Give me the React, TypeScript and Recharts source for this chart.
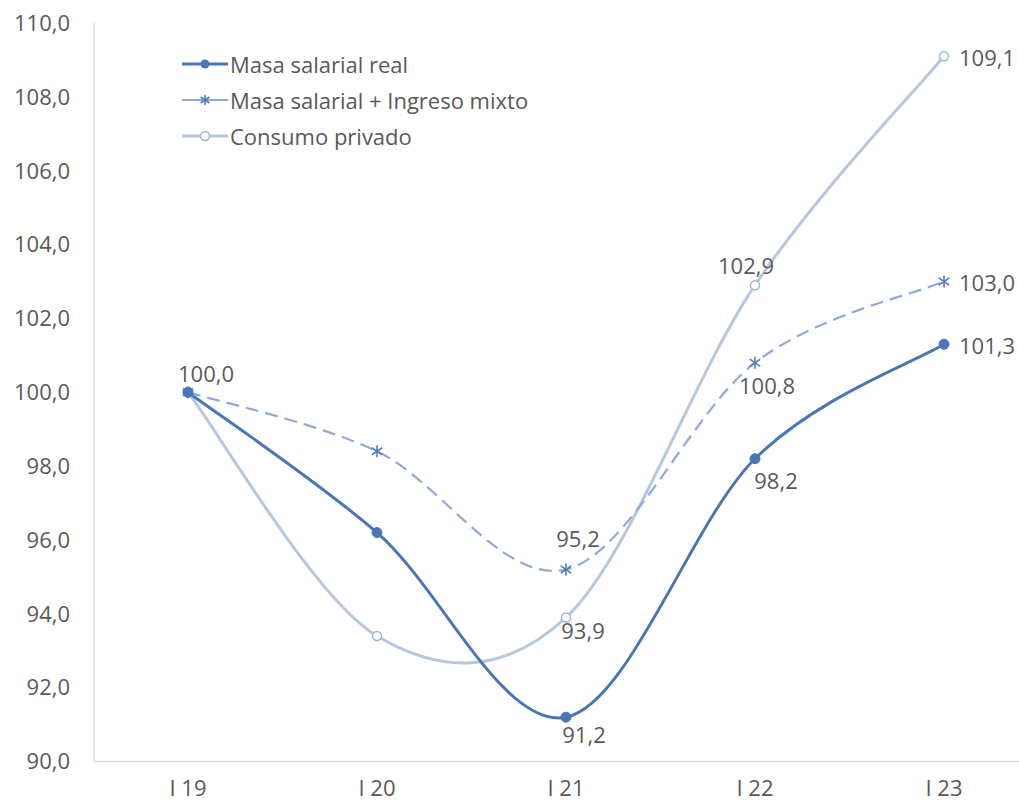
import React from 'react';
import { LineChart, Line, XAxis, YAxis, LabelList, Legend } from 'recharts';

const categories = ['I 19', 'I 20', 'I 21', 'I 22', 'I 23'];
const masaSalarialReal = [100.0, 96.2, 91.2, 98.2, 101.3];
const masaMasMixto = [100.0, 98.4, 95.2, 100.8, 103.0];
const consumoPrivado = [100.0, 93.4, 93.9, 102.9, 109.1];
const yTicks = [90, 92, 94, 96, 98, 100, 102, 104, 106, 108, 110];

const SERIES = [
  { key: 'real', name: 'Masa salarial real' },
  { key: 'mixto', name: 'Masa salarial + Ingreso mixto' },
  { key: 'consumo', name: 'Consumo privado' },
];

const data = categories.map((c, i) => ({
  cat: c,
  real: masaSalarialReal[i],
  mixto: masaMasMixto[i],
  consumo: consumoPrivado[i],
}));

const FONT = '"Open Sans", sans-serif';
const FS = 22;
const TXT = '#595959';
const C_REAL = '#4a77b4';
const C_MIXTO = '#8faad8';
const C_MIXTO_MK = '#4f7bc0';
const C_CONS = '#b5c8de';
const C_CONS_MK = '#9bb6d8';

// label placement per series: index -> [dx, dy, anchor]
const labelsReal: Record<number, [number, number, string]> = {
  2: [18, 17, 'middle'],
  3: [21, 21, 'middle'],
  4: [15, 1, 'start'],
};
const labelsMixto: Record<number, [number, number, string]> = {
  2: [12, -31, 'middle'],
  3: [12, 22, 'middle'],
  4: [15, 1, 'start'],
};
const labelsConsumo: Record<number, [number, number, string]> = {
  0: [18, -19, 'middle'],
  2: [17, 13, 'middle'],
  3: [-9, -20, 'middle'],
  4: [15, 1, 'start'],
};

const fmt = (v: number) => v.toFixed(1).replace('.', ',');

// Excel-like smoothing (Catmull-Rom, uniform)
const excelCurve = (context: any) => {
  let pts: number[][] = [];
  return {
    areaStart() {},
    areaEnd() {},
    lineStart() {
      pts = [];
    },
    point(x: number, y: number) {
      pts.push([+x, +y]);
    },
    lineEnd() {
      if (!pts.length) return;
      context.moveTo(pts[0][0], pts[0][1]);
      for (let i = 0; i < pts.length - 1; i++) {
        const p0 = pts[i - 1] || pts[i];
        const p1 = pts[i];
        const p2 = pts[i + 1];
        const p3 = pts[i + 2] || pts[i + 1];
        const c1x = p1[0] + (p2[0] - p0[0]) / 6;
        const c1y = p1[1] + (p2[1] - p0[1]) / 6;
        const c2x = p2[0] - (p3[0] - p1[0]) / 6;
        const c2y = p2[1] - (p3[1] - p1[1]) / 6;
        context.bezierCurveTo(c1x, c1y, c2x, c2y, p2[0], p2[1]);
      }
    },
  };
};

const makeLabel = (cfg: Record<number, [number, number, string]>) => (props: any) => {
  const { x, y, value, index } = props;
  const c = cfg[index];
  if (!c) return null;
  return (
    <text
      x={x + c[0]}
      y={y + c[1]}
      textAnchor={c[2] as any}
      dominantBaseline="central"
      fill={TXT}
      fontSize={FS}
      fontFamily={FONT}
    >
      {fmt(value)}
    </text>
  );
};

const DotReal = (props: any) => {
  const { cx, cy } = props;
  if (cx == null || cy == null) return null;
  return <circle cx={cx} cy={cy} r={5} fill={C_REAL} stroke={C_REAL} strokeWidth={1} />;
};

const StarShape = ({ cx, cy, s = 6 }: { cx: number; cy: number; s?: number }) => (
  <g stroke={C_MIXTO_MK} strokeWidth={1.6} fill="none">
    <line x1={cx} y1={cy - s} x2={cx} y2={cy + s} />
    <line x1={cx - s * 0.87} y1={cy - s * 0.6} x2={cx + s * 0.87} y2={cy + s * 0.6} />
    <line x1={cx - s * 0.87} y1={cy + s * 0.6} x2={cx + s * 0.87} y2={cy - s * 0.6} />
  </g>
);

const DotMixto = (props: any) => {
  const { cx, cy } = props;
  if (cx == null || cy == null) return null;
  return <StarShape cx={cx} cy={cy} />;
};

const DotConsumo = (props: any) => {
  const { cx, cy } = props;
  if (cx == null || cy == null) return null;
  return <circle cx={cx} cy={cy} r={4.5} fill="#ffffff" stroke={C_CONS_MK} strokeWidth={1.5} />;
};

const LegendContent = () => {
  const rows = [
    { name: SERIES[0].name, kind: 'real' },
    { name: SERIES[1].name, kind: 'mixto' },
    { name: SERIES[2].name, kind: 'consumo' },
  ];
  return (
    <div style={{ fontFamily: FONT, fontSize: FS, color: TXT }}>
      {rows.map((r) => (
        <div key={r.kind} style={{ display: 'flex', alignItems: 'center', height: 36 }}>
          <svg width={48} height={20} style={{ marginRight: 0 }}>
            {r.kind === 'real' && (
              <g>
                <line x1={0} y1={10} x2={46} y2={10} stroke={C_REAL} strokeWidth={3} />
                <circle cx={23} cy={10} r={4.5} fill={C_REAL} />
              </g>
            )}
            {r.kind === 'mixto' && (
              <g>
                <line x1={0} y1={10} x2={46} y2={10} stroke={C_MIXTO} strokeWidth={2.2} />
                <StarShape cx={23} cy={10} s={5} />
              </g>
            )}
            {r.kind === 'consumo' && (
              <g>
                <line x1={0} y1={10} x2={46} y2={10} stroke={C_CONS} strokeWidth={3} />
                <circle cx={23} cy={10} r={4.5} fill="#fff" stroke={C_CONS_MK} strokeWidth={1.5} />
              </g>
            )}
          </svg>
          <span>{r.name}</span>
        </div>
      ))}
    </div>
  );
};

export default function App() {
  return (
    <div
      style={{
        position: 'absolute',
        left: 0,
        top: 0,
        width: 1019,
        height: 804,
        overflow: 'hidden',
        background: '#fff',
      }}
    >
      <LineChart
        width={1040}
        height={804}
        data={data}
        margin={{ top: 23, right: 2, bottom: 0, left: 0 }}
      >
        <XAxis
          dataKey="cat"
          height={42.5}
          padding={{ left: 94, right: 94 }}
          axisLine={{ stroke: '#d9d9d9', strokeWidth: 1.3 }}
          tickLine={false}
          tickSize={0}
          tickMargin={19}
          tick={{ fill: TXT, fontSize: FS, fontFamily: FONT }}
          interval={0}
        />
        <YAxis
          type="number"
          domain={[90, 110]}
          ticks={yTicks}
          width={94}
          axisLine={{ stroke: '#d9d9d9', strokeWidth: 1.3 }}
          tickLine={false}
          tickSize={0}
          tickMargin={24}
          tickFormatter={fmt}
          tick={{ fill: TXT, fontSize: FS, fontFamily: FONT }}
          allowDataOverflow
        />
        <Legend
          layout="vertical"
          align="center"
          verticalAlign="middle"
          content={<LegendContent />}
          wrapperStyle={{ position: 'absolute', left: 182, top: 46, width: 420 }}
        />
        <Line
          dataKey="consumo"
          name={SERIES[2].name}
          type={excelCurve as any}
          stroke={C_CONS}
          strokeWidth={3}
          dot={<DotConsumo />}
          activeDot={false}
          isAnimationActive={false}
        >
          <LabelList dataKey="consumo" content={makeLabel(labelsConsumo)} />
        </Line>
        <Line
          dataKey="mixto"
          name={SERIES[1].name}
          type={excelCurve as any}
          stroke={C_MIXTO}
          strokeWidth={2.2}
          strokeDasharray="13 7"
          dot={<DotMixto />}
          activeDot={false}
          isAnimationActive={false}
        >
          <LabelList dataKey="mixto" content={makeLabel(labelsMixto)} />
        </Line>
        <Line
          dataKey="real"
          name={SERIES[0].name}
          type={excelCurve as any}
          stroke={C_REAL}
          strokeWidth={3}
          dot={<DotReal />}
          activeDot={false}
          isAnimationActive={false}
        >
          <LabelList dataKey="real" content={makeLabel(labelsReal)} />
        </Line>
      </LineChart>
    </div>
  );
}
